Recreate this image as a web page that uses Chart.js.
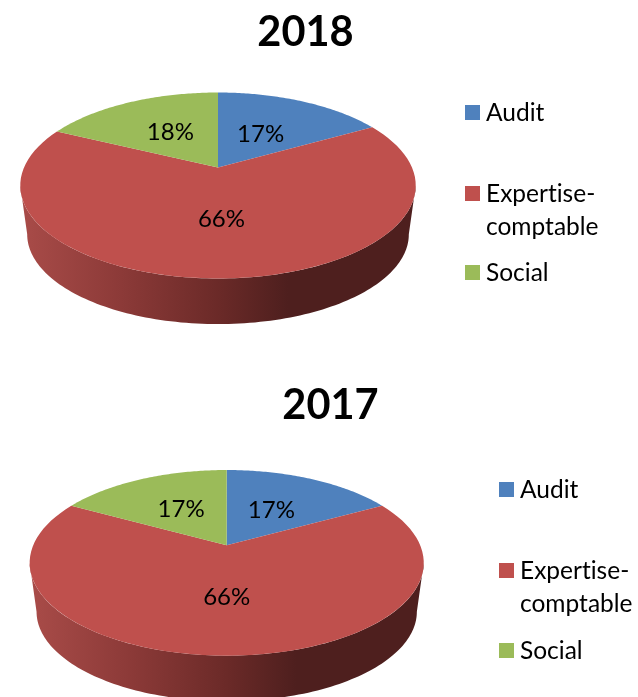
<!DOCTYPE html>
<html>
<head>
<meta charset="utf-8">
<title>2018 / 2017</title>
<script src="https://cdn.jsdelivr.net/npm/chart.js@4"></script>
<style>
  html, body { margin: 0; padding: 0; background: #fff; }
  body { position: relative; width: 638px; height: 697px; overflow: hidden; font-family: Lato, sans-serif; color: #000; font-variant-ligatures: none; }
  canvas { position: absolute; left: 0; }
  .title { position: absolute; width: 200px; margin-left: -100px; text-align: center; font-weight: bold; font-size: 41.5px; line-height: 50px; }
  .swatch { position: absolute; width: 15px; height: 15px; }
  .entry { position: absolute; font-size: 24.5px; line-height: 32.5px; width: 130px; }
</style>
</head>
<body>
<canvas id="chart-2018" width="638" height="345" style="top:0"></canvas>
<canvas id="chart-2017" width="638" height="352" style="top:345px"></canvas>
<script>
const categories = ["Audit", "Expertise-comptable", "Social"]
const values2018 = [17, 66, 18]
const values2017 = [17, 66, 17]
const titles = ["2018", "2017"]

const colors = ["#4f81bd", "#bf504d", "#9bbb59"]

// Perspective disc: k tilts the circle, so the apex sits above the ellipse centre
function project(p, angle, frac, isBottom) {
  const u = Math.cos(angle) * frac
  const v = Math.sin(angle) * frac
  const d = 1 - p.k * v
  const s = isBottom ? p.bottomScale : 1
  return {
    x: p.cx + s * p.rx * u / d,
    y: p.cy + (isBottom ? p.depth : 0) + s * p.ry * v / d
  }
}

function drawWall(ctx, p) {
  const from = Math.acos(-p.k) - Math.PI / 2
  const to = Math.PI * 1.5 - Math.acos(-p.k)
  const steps = 120
  ctx.beginPath()
  for (let i = 0; i <= steps; i++) {
    const pt = project(p, from + (to - from) * i / steps, 1, false)
    if (i === 0) ctx.moveTo(pt.x, pt.y)
    else ctx.lineTo(pt.x, pt.y)
  }
  for (let i = steps; i >= 0; i--) {
    const pt = project(p, from + (to - from) * i / steps, 1, true)
    ctx.lineTo(pt.x, pt.y)
  }
  ctx.closePath()
  const grad = ctx.createLinearGradient(p.cx - p.rx, 0, p.cx + p.rx, 0)
  grad.addColorStop(0, "#a84b48")
  grad.addColorStop(0.25, "#8c3a38")
  grad.addColorStop(0.5, "#6b2a28")
  grad.addColorStop(0.68, "#4e1f1e")
  grad.addColorStop(1, "#4e1f1e")
  ctx.fillStyle = grad
  ctx.fill()
}

const pie3d = {
  id: "pie3d",
  beforeDatasetsDraw(chart, args, p) {
    const ctx = chart.ctx
    const arcs = chart.getDatasetMeta(0).data
    ctx.save()
    drawWall(ctx, p)
    arcs.forEach((arc, i) => {
      const steps = 80
      ctx.beginPath()
      ctx.moveTo(p.cx, p.cy)
      for (let s = 0; s <= steps; s++) {
        const pt = project(p, arc.startAngle + (arc.endAngle - arc.startAngle) * s / steps, 1, false)
        ctx.lineTo(pt.x, pt.y)
      }
      ctx.closePath()
      ctx.fillStyle = colors[i]
      ctx.fill()
    })
    ctx.font = "24px Lato, sans-serif"
    ctx.fontKerning = "normal"
    ctx.fillStyle = "#000"
    ctx.textAlign = "center"
    ctx.textBaseline = "middle"
    arcs.forEach((arc, i) => {
      const pt = project(p, (arc.startAngle + arc.endAngle) / 2, p.labelFrac[i], false)
      ctx.fillText(chart.data.datasets[0].data[i] + "%", pt.x, pt.y)
    })
    ctx.restore()
    return false
  }
}

function makePie(id, values, geometry) {
  const ctx = document.getElementById(id).getContext("2d")
  return new Chart(ctx, {
    type: "pie",
    data: {
      labels: categories,
      datasets: [{ data: values, backgroundColor: colors, borderWidth: 0 }]
    },
    plugins: [pie3d],
    options: {
      responsive: false,
      animation: false,
      plugins: {
        legend: { display: false },
        tooltip: { enabled: false },
        pie3d: geometry
      }
    }
  })
}

makePie("chart-2018", values2018, { cx: 218, cy: 167.5, rx: 194, ry: 89.5, k: 0.1935, depth: 49.5, bottomScale: 0.965, labelFrac: [0.47, 0.52, 0.5] })
makePie("chart-2017", values2017, { cx: 226.7, cy: 200.3, rx: 193.5, ry: 89.5, k: 0.189, depth: 49.5, bottomScale: 0.965, labelFrac: [0.49, 0.52, 0.5] })

// Titles and the legends sit outside the pies, placed by hand like the source slide
function addTitle(text, x, y) {
  const el = document.createElement("div")
  el.className = "title"
  el.textContent = text
  el.style.left = x + "px"
  el.style.top = (y - 25) + "px"
  document.body.appendChild(el)
}

function addLegend(x, rows) {
  categories.forEach((name, i) => {
    const box = document.createElement("div")
    box.className = "swatch"
    box.style.left = x + "px"
    box.style.top = (rows[i] - 7.5) + "px"
    box.style.background = colors[i]
    document.body.appendChild(box)
    const label = document.createElement("div")
    label.className = "entry"
    label.textContent = name
    label.style.left = (x + 21) + "px"
    label.style.top = (rows[i] - 16) + "px"
    document.body.appendChild(label)
  })
}

addTitle(titles[0], 305.5, 30)
addTitle(titles[1], 330.5, 403)
addLegend(465, [112, 193, 272])
addLegend(499, [489, 570, 650])
</script>
</body>
</html>
